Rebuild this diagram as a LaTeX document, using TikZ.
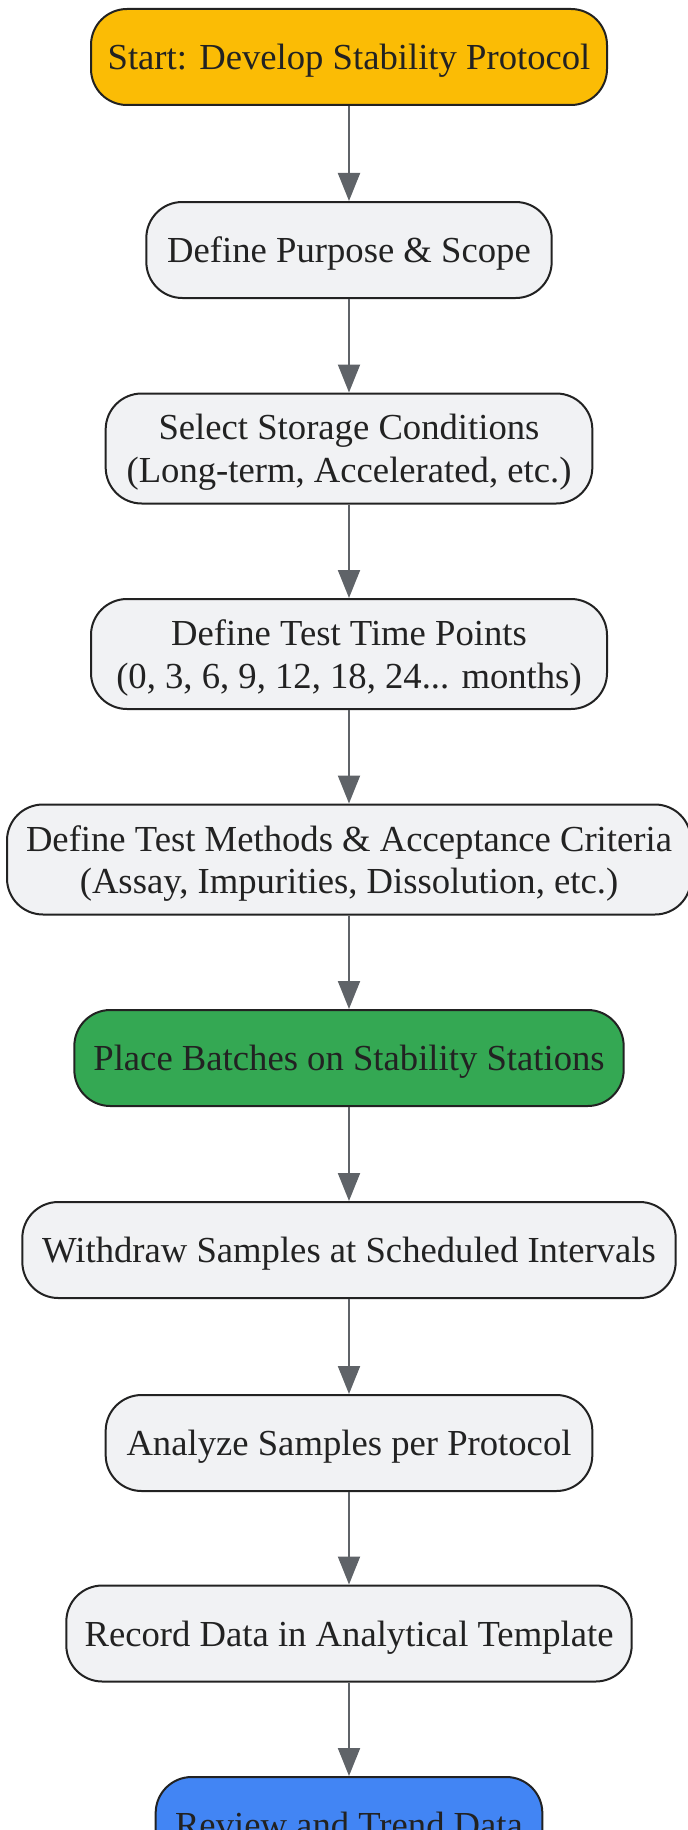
\documentclass[tikz,border=0pt]{standalone}
\usepackage{fontspec}
\setmainfont{Liberation Serif}
\usepackage{xcolor}
\usepackage{tikz}
\usetikzlibrary{arrows.meta,positioning}

\definecolor{boxgray}{HTML}{F1F2F4}
\definecolor{startyellow}{HTML}{FBBC05}
\definecolor{placegreen}{HTML}{34A853}
\definecolor{reviewblue}{HTML}{4285F4}
\definecolor{edgegray}{HTML}{5F6368}
\definecolor{inkdark}{HTML}{222222}

\begin{document}
\begin{tikzpicture}[
    x=0.75pt, y=-0.75pt,
    stage/.style={rectangle, draw=inkdark, line width=1.5pt, rounded corners=27pt, fill=boxgray, text=inkdark, align=center, inner xsep=6pt, text depth=0pt, minimum height=72pt, font=\fontsize{27.5}{32}\selectfont},
    startstage/.style={stage, fill=startyellow},
    placestage/.style={stage, fill=placegreen},
    reviewstage/.style={stage, fill=reviewblue},
    arrow/.style={-{Triangle[length=21pt,width=16.5pt]}, draw=edgegray, line width=1.5pt}
]

\useasboundingbox (0,0) rectangle (688,1830);

% Protocol set-up
\node[startstage, minimum width=387pt] (start) at (349, 57) {Start: Develop Stability Protocol};
\node[stage, minimum width=304pt] (scope) at (349, 250) {Define Purpose \& Scope};
\node[stage, minimum width=365pt, minimum height=82.5pt] (storage) at (349, 448.5) {Select Storage Conditions\\(Long-term, Accelerated, etc.)};
\node[stage, minimum width=387pt, minimum height=82.5pt] (timepts) at (349, 654) {Define Test Time Points\\(0, 3, 6, 9, 12, 18, 24... months)};
\node[stage, minimum width=513pt, minimum height=82.5pt] (methods) at (349, 859.5) {Define Test Methods \& Acceptance Criteria\\(Assay, Impurities, Dissolution, etc.)};

% Execution
\node[placestage, minimum width=412pt] (place) at (349, 1058) {Place Batches on Stability Stations};
\node[stage, minimum width=490pt] (withdraw) at (349, 1250) {Withdraw Samples at Scheduled Intervals};
\node[stage, minimum width=365pt] (analyze) at (349, 1443) {Analyze Samples per Protocol};
\node[stage, minimum width=424pt] (record) at (349, 1633.5) {Record Data in Analytical Template};
\node[reviewstage, minimum width=290pt] (review) at (349, 1825) {Review and Trend Data};

% Flow arrows
\draw[arrow] (start) -- (scope);
\draw[arrow] (scope) -- (storage);
\draw[arrow] (storage) -- (timepts);
\draw[arrow] (timepts) -- (methods);
\draw[arrow] (methods) -- (place);
\draw[arrow] (place) -- (withdraw);
\draw[arrow] (withdraw) -- (analyze);
\draw[arrow] (analyze) -- (record);
\draw[arrow] (record) -- (review);

\end{tikzpicture}
\end{document}
